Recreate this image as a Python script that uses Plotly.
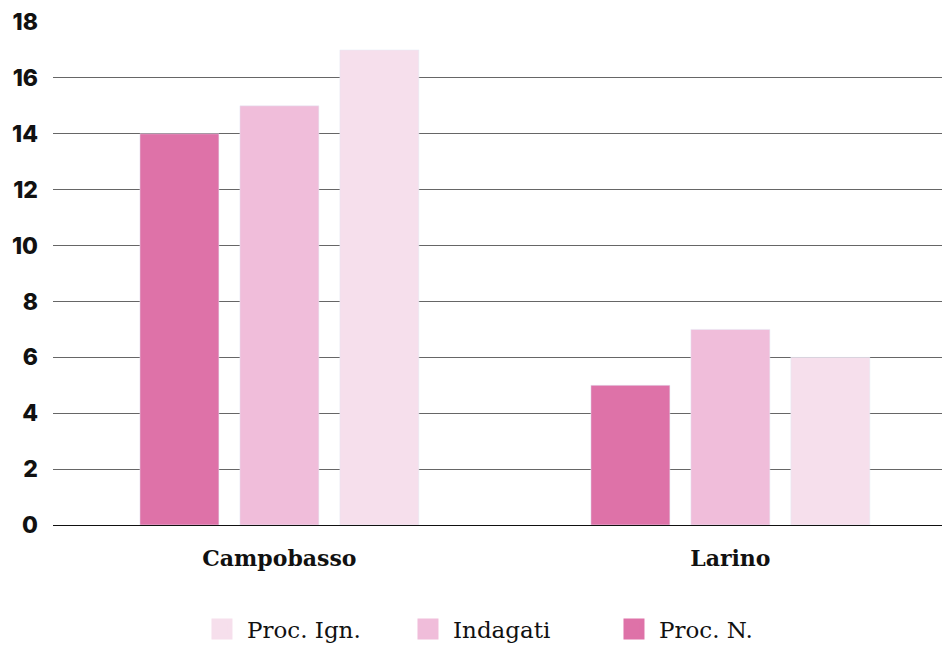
import plotly.graph_objects as go

# data
categories = ["Campobasso", "Larino"]
proc_n = [14, 5]
indagati = [15, 7]
proc_ign = [17, 6]
y_ticks = [0, 2, 4, 6, 8, 10, 12, 14, 16, 18]

colors = {"Proc. N.": "#DE72A8", "Indagati": "#F0BDDA", "Proc. Ign.": "#F6DFEC"}
series = {"Proc. N.": proc_n, "Indagati": indagati, "Proc. Ign.": proc_ign}

fig = go.Figure()
for name, vals in series.items():
    fig.add_trace(go.Bar(x=categories, y=vals, name=name, marker_color=colors[name],
                         showlegend=False))
# bigger square legend keys (legend markers are capped, so pad with an outline)
for name in series:
    fig.add_trace(go.Scatter(x=[None], y=[None], mode="markers", name=name,
                             marker=dict(symbol="square", size=16, color=colors[name],
                                         line=dict(width=6, color=colors[name]))))

fig.update_layout(
    width=942, height=653,
    margin=dict(l=45, r=0, t=14, b=136),
    plot_bgcolor="white", paper_bgcolor="white",
    barmode="group", bargap=0.335, bargroupgap=0.21,
    showlegend=True,
    legend=dict(orientation="h", traceorder="reversed", x=0.505, xanchor="center",
                y=-0.207, yanchor="middle", itemsizing="trace",
                font=dict(family="DejaVu Serif", size=23, color="#111"),
                entrywidth=151, itemwidth=40),
    xaxis=dict(range=[-0.502, 1.487], showgrid=False, showline=False, zeroline=False,
               tickfont=dict(family="DejaVu Serif", size=22, color="#111", weight="bold"),
               ticklabelstandoff=18),
    yaxis=dict(range=[0, 18], tickvals=y_ticks, showgrid=True, gridcolor="#666",
               gridwidth=1, zeroline=True, zerolinecolor="#111", zerolinewidth=1,
               tickfont=dict(family="Inter", size=23, color="#111", weight=800),
               ticklabelstandoff=14),
)

fig.write_html("out.html")
